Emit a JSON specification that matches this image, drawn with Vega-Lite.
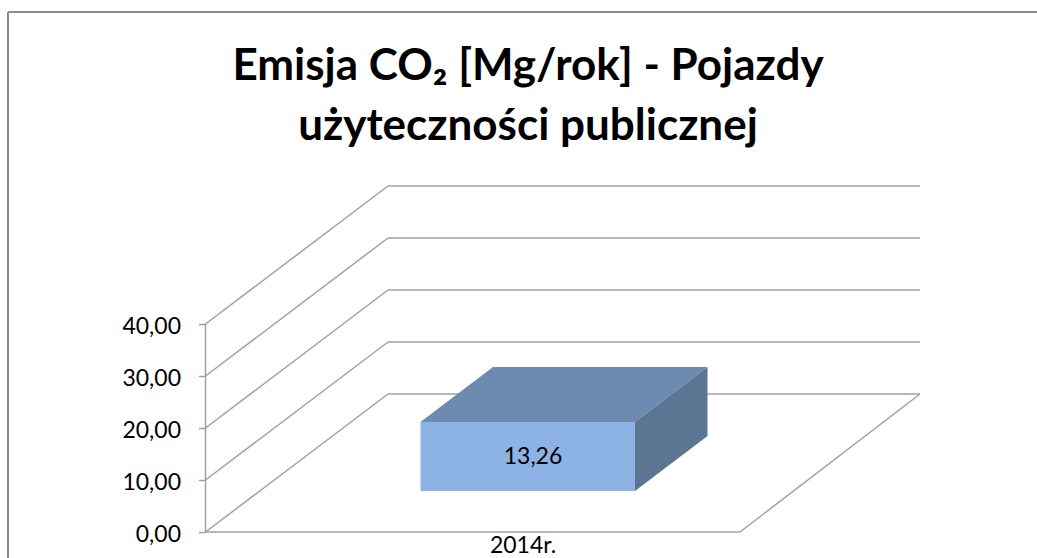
{
"$schema":"https://vega.github.io/schema/vega-lite/v6.json",
"width":1037,"height":558,"padding":0,"autosize":{"type":"none"},
"background":"#ffffff",
"view":{"stroke":null},
"title":{"text":["Emisja CO₂ [Mg/rok] - Pojazdy","użyteczności publicznej"],"font":"Lato","fontSize":44,"fontWeight":"bold","color":"#000000","lineHeight":60,"anchor":"start","align":"center","frame":"group","orient":"top","offset":-80,"dx":528,"dy":104,"baseline":"alphabetic"},
"datasets":{
"frame":[{"a":8,"b":8,"v":-5,"v2":100},{"a":8,"b":1037,"v":100,"v2":100}],
"grid":[
{"a":205.5,"b":205.5,"v":0,"v2":40},
{"a":205.5,"b":740,"v":0,"v2":0},
{"a":740,"b":920,"v":0,"v2":26.54},
{"a":205.5,"b":388,"v":0,"v2":26.54},
{"a":205.5,"b":388,"v":10,"v2":36.54},
{"a":205.5,"b":388,"v":20,"v2":46.54},
{"a":205.5,"b":388,"v":30,"v2":56.54},
{"a":205.5,"b":388,"v":40,"v2":66.54},
{"a":388,"b":920,"v":26.54,"v2":26.54},
{"a":388,"b":920,"v":36.54,"v2":36.54},
{"a":388,"b":920,"v":46.54,"v2":46.54},
{"a":388,"b":920,"v":56.54,"v2":56.54},
{"a":388,"b":920,"v":66.54,"v2":66.54}
],
"top":[{"v":21.15,"a":420.5,"b":635},{"v":31.73,"a":493,"b":707.5}],
"side":[{"a":635,"v":21.15,"v2":7.88},{"a":707.5,"v":31.73,"v2":18.46}],
"front":[{"a":420.5,"b":635,"v":7.88,"v2":21.15}],
"labels":[{"a":533,"v":14.4,"t":"13,26"},{"a":523,"v":-2.6,"t":"2014r."}]
},
"encoding":{
"x":{"field":"a","type":"quantitative","stack":null,"scale":{"domain":[0,1037],"nice":false,"zero":false},"axis":null},
"y":{"field":"v","type":"quantitative","stack":null,"scale":{"domain":[-5,102.3077],"nice":false,"zero":false},
"axis":{"orient":"left","offset":-205.5,"values":[0,10,20,30,40],"title":null,"grid":false,"domain":false,"ticks":true,"tickSize":7,"tickWidth":1.5,"tickColor":"#a0a0a0","labelPadding":18,"labelOffset":2,"labelFont":"Lato","labelFontSize":23,"labelColor":"#000000","labelExpr":"replace(format(datum.value,'.2f'),'.',',')"}}
},
"layer":[
{"data":{"name":"frame"},"mark":{"type":"rule","color":"#8c8c8c","strokeWidth":2},
"encoding":{"x2":{"field":"b"},"y2":{"field":"v2"}}},
{"data":{"name":"grid"},"mark":{"type":"rule","color":"#a0a0a0","strokeWidth":1.5},
"encoding":{"x2":{"field":"b"},"y2":{"field":"v2"}}},
{"data":{"name":"top"},"mark":{"type":"area","orient":"horizontal","color":"#6d8ab0"},
"encoding":{"x2":{"field":"b"}}},
{"data":{"name":"side"},"mark":{"type":"area","orient":"vertical","color":"#5c7592"},
"encoding":{"y2":{"field":"v2"}}},
{"data":{"name":"front"},"mark":{"type":"rect","color":"#8cb3e3"},
"encoding":{"x2":{"field":"b"},"y2":{"field":"v2"}}},
{"data":{"name":"labels"},"mark":{"type":"text","font":"Lato","fontSize":23,"color":"#000000","align":"center","baseline":"middle"},
"encoding":{"text":{"field":"t"}}}
]
}
